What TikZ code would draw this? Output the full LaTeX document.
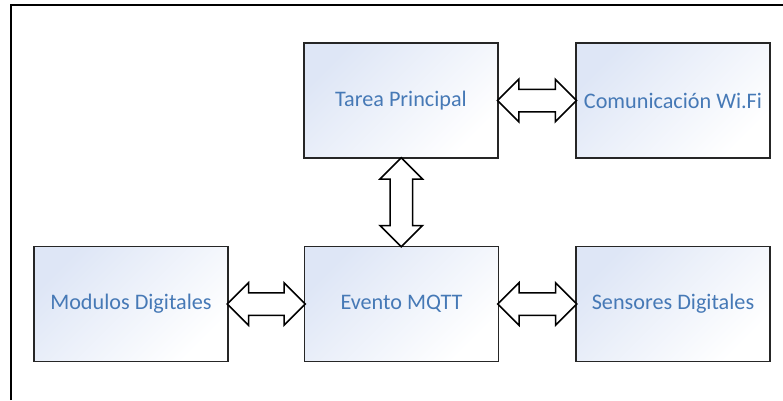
\documentclass[tikz,border=0pt]{standalone}
\usepackage{fontspec}
\setmainfont{Carlito}
\usepackage{tikz}
\usetikzlibrary{shapes.arrows, calc}
\definecolor{textblue}{RGB}{70,121,182}
\definecolor{boxblue}{RGB}{222,230,246}

\begin{document}
\begin{tikzpicture}[x=1pt, y=1pt,
    block/.style={draw=black!85, line width=1.3pt, minimum width=194pt, minimum height=115pt,
        top color=boxblue, bottom color=white, shading angle=45,
        text=textblue, font=\fontsize{22.2}{26}\selectfont},
    link/.style={double arrow, draw=black, line width=1.5pt, fill=white, inner xsep=0pt, inner ysep=10.5pt,
        minimum width=41pt, double arrow head extend=10pt}]
    \useasboundingbox (0,0) rectangle (783,400);

    % Outer frame
    \draw[line width=1.5pt] (11,0) -- (11,395) -- (783,395);

    % Blocks
    \node[block] (tarea) at (401, 299.5) {Tarea Principal};
    \node[block] (wifi) at (673, 299.5) {Comunicación Wi.Fi};
    \node[block] (modulos) at (131, 96) {Modulos Digitales};
    \node[block] (evento) at (401.5, 96) {Evento MQTT};
    \node[block] (sensores) at (673, 96) {Sensores Digitales};

    % Links
    \node[link, minimum height=79pt] (l1) at ($(tarea.east)!0.5!(wifi.west)$) {};
    \node[link, minimum height=89pt, rotate=90] (l2) at ($(tarea.south)!0.5!(evento.north)$) {};
    \node[link, minimum height=78pt] (l3) at ($(modulos.east)!0.5!(evento.west)$) {};
    \node[link, minimum height=79pt] (l4) at ($(evento.east)!0.5!(sensores.west)$) {};
\end{tikzpicture}
\end{document}
